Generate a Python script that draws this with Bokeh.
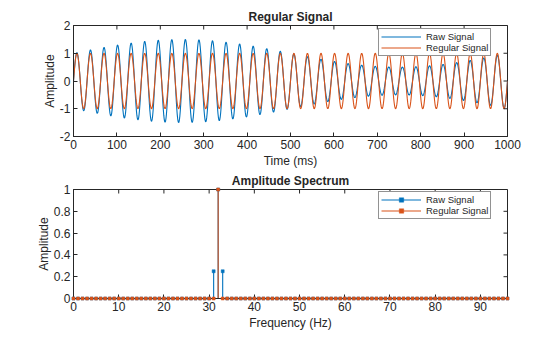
import numpy as np
from bokeh.plotting import figure
from bokeh.models import Range1d, Legend, LegendItem, FixedTicker
from bokeh.layouts import column
from bokeh.embed import file_html
from bokeh.resources import INLINE

# ---------------- data ----------------
# spectrum bins shown (Hz)
freq_bins_hz = list(range(0, 97))
# non-zero spectral lines of the raw signal
raw_peak_hz = [31, 32, 33]
raw_peak_amp = [0.25, 1.0, 0.25]
raw_peak_phase_deg = [90, 0, -90]
# non-zero spectral line of the regular signal
reg_peak_hz = [32]
reg_peak_amp = [1.0]
reg_peak_phase_deg = [0]

time_ticks = [0, 100, 200, 300, 400, 500, 600, 700, 800, 900, 1000]
amp_ticks_top = [-2, -1, 0, 1, 2]
amp_tick_labels_top = ["-2", "-1", "0", "1", "2"]
freq_ticks = [0, 10, 20, 30, 40, 50, 60, 70, 80, 90]
amp_ticks_bottom = [0, 0.2, 0.4, 0.6, 0.8, 1]
amp_tick_labels_bottom = ["0", "0.2", "0.4", "0.6", "0.8", "1"]

# ---------------- derived series ----------------
t_ms = np.arange(0, 1001, 1.0)


def synth(freqs, amps, phases):
    s = np.zeros_like(t_ms)
    for f, a, ph in zip(freqs, amps, phases):
        s += a * np.sin(2 * np.pi * f * t_ms / 1000.0 + np.deg2rad(ph))
    return s


raw_signal = synth(raw_peak_hz, raw_peak_amp, raw_peak_phase_deg)
reg_signal = synth(reg_peak_hz, reg_peak_amp, reg_peak_phase_deg)


def spectrum(freqs, amps):
    d = dict(zip(freqs, amps))
    return [d.get(f, 0.0) for f in freq_bins_hz]


raw_spec = spectrum(raw_peak_hz, raw_peak_amp)
reg_spec = spectrum(reg_peak_hz, reg_peak_amp)

BLUE = "#0072BD"
ORANGE = "#D95319"
AX = "#262626"
FONT = "Liberation Sans"


def style_axis(ax, ticks, overrides=None):
    ax.ticker = FixedTicker(ticks=ticks)
    ax.minor_tick_line_color = None
    ax.major_tick_in = 4
    ax.major_tick_out = 0
    ax.axis_line_color = AX
    ax.major_tick_line_color = AX
    ax.major_label_text_font = FONT
    ax.major_label_text_color = AX
    ax.major_label_text_font_size = "12px"
    ax.major_label_standoff = 3
    ax.axis_label_text_font = FONT
    ax.axis_label_text_font_style = "normal"
    ax.axis_label_text_color = AX
    ax.axis_label_text_font_size = "12px"
    ax.axis_label_standoff = 2
    if overrides:
        ax.major_label_overrides = overrides


def make_fig(height, xr, yr, top, bottom, title):
    p = figure(width=560, height=height, output_backend="svg", toolbar_location=None,
               x_range=xr, y_range=yr, min_border_left=73, min_border_right=53,
               min_border_top=top, min_border_bottom=bottom)
    p.grid.visible = False
    p.outline_line_color = AX
    p.background_fill_color = "white"
    p.border_fill_color = "white"
    p.title.text = title
    p.title.align = "center"
    p.title.text_font = FONT
    p.title.text_font_size = "12px"
    p.title.text_font_style = "bold"
    p.title.text_color = AX
    p.title.standoff = 3
    return p


def add_box_ticks(p, xticks, yticks, xmax, ymax):
    # inward tick marks on the top and right edges (half of each dash is clipped)
    p.scatter(x=xticks, y=[ymax] * len(xticks), marker="dash", size=8, angle=np.pi / 2,
              line_color=AX, line_width=1)
    p.scatter(x=[xmax] * len(yticks), y=yticks, marker="dash", size=8,
              line_color=AX, line_width=1)


def make_legend(p, items, x, y):
    lg = Legend(items=items, location=(x, y))
    lg.border_line_color = AX
    lg.border_line_width = 1
    lg.background_fill_color = "white"
    lg.background_fill_alpha = 1
    lg.label_text_font = FONT
    lg.label_text_font_size = "9.5px"
    lg.label_text_color = AX
    lg.glyph_width = 40
    lg.glyph_height = 11
    lg.label_height = 11
    lg.label_standoff = 5
    lg.padding = 2
    lg.spacing = 0
    lg.margin = 0
    p.add_layout(lg)


# ---------------- top: time signals ----------------
p1 = make_fig(170, Range1d(0, 1000), Range1d(-2, 2), 25, 31, "Regular Signal")
r_raw = p1.line(t_ms, raw_signal, line_color=BLUE, line_width=1.1)
r_reg = p1.line(t_ms, reg_signal, line_color=ORANGE, line_width=1.1)
style_axis(p1.xaxis[0], time_ticks)
style_axis(p1.yaxis[0], amp_ticks_top,
           overrides={t: l for t, l in zip(amp_ticks_top, amp_tick_labels_top)})
p1.xaxis[0].axis_label = "Time (ms)"
p1.yaxis[0].axis_label = "Amplitude"
p1.yaxis[0].axis_label_standoff = 0
add_box_ticks(p1, time_ticks, amp_ticks_top, 1000, 2)
make_legend(p1, [LegendItem(label="Raw Signal", renderers=[r_raw]),
                 LegendItem(label="Regular Signal", renderers=[r_reg])], 305, 80)

# ---------------- bottom: spectrum ----------------
p2 = make_fig(167, Range1d(0, 96), Range1d(0, 1), 16, 39, "Amplitude Spectrum")
zeros = [0.0] * len(freq_bins_hz)
s_raw = p2.segment(x0=freq_bins_hz, y0=zeros, x1=freq_bins_hz, y1=raw_spec,
                   line_color=BLUE, line_width=1.1)
m_raw = p2.scatter(freq_bins_hz, raw_spec, marker="square", size=3,
                   fill_color=BLUE, line_color=BLUE, line_width=0.5, level="overlay")
s_reg = p2.segment(x0=freq_bins_hz, y0=zeros, x1=freq_bins_hz, y1=reg_spec,
                   line_color=ORANGE, line_width=1.1)
m_reg = p2.scatter(freq_bins_hz, reg_spec, marker="square", size=3,
                   fill_color=ORANGE, line_color=ORANGE, line_width=0.5, level="overlay")
style_axis(p2.xaxis[0], freq_ticks)
style_axis(p2.yaxis[0], amp_ticks_bottom,
           overrides={t: l for t, l in zip(amp_ticks_bottom, amp_tick_labels_bottom)})
p2.xaxis[0].axis_label = "Frequency (Hz)"
p2.yaxis[0].axis_label = "Amplitude"
p2.yaxis[0].axis_label_standoff = 0
add_box_ticks(p2, freq_ticks, amp_ticks_bottom, 96, 1)
make_legend(p2, [LegendItem(label="Raw Signal", renderers=[s_raw, m_raw]),
                 LegendItem(label="Regular Signal", renderers=[s_reg, m_reg])], 305, 79)

layout = column(p1, p2, spacing=0)
open("out.html", "w").write(file_html(layout, INLINE))
